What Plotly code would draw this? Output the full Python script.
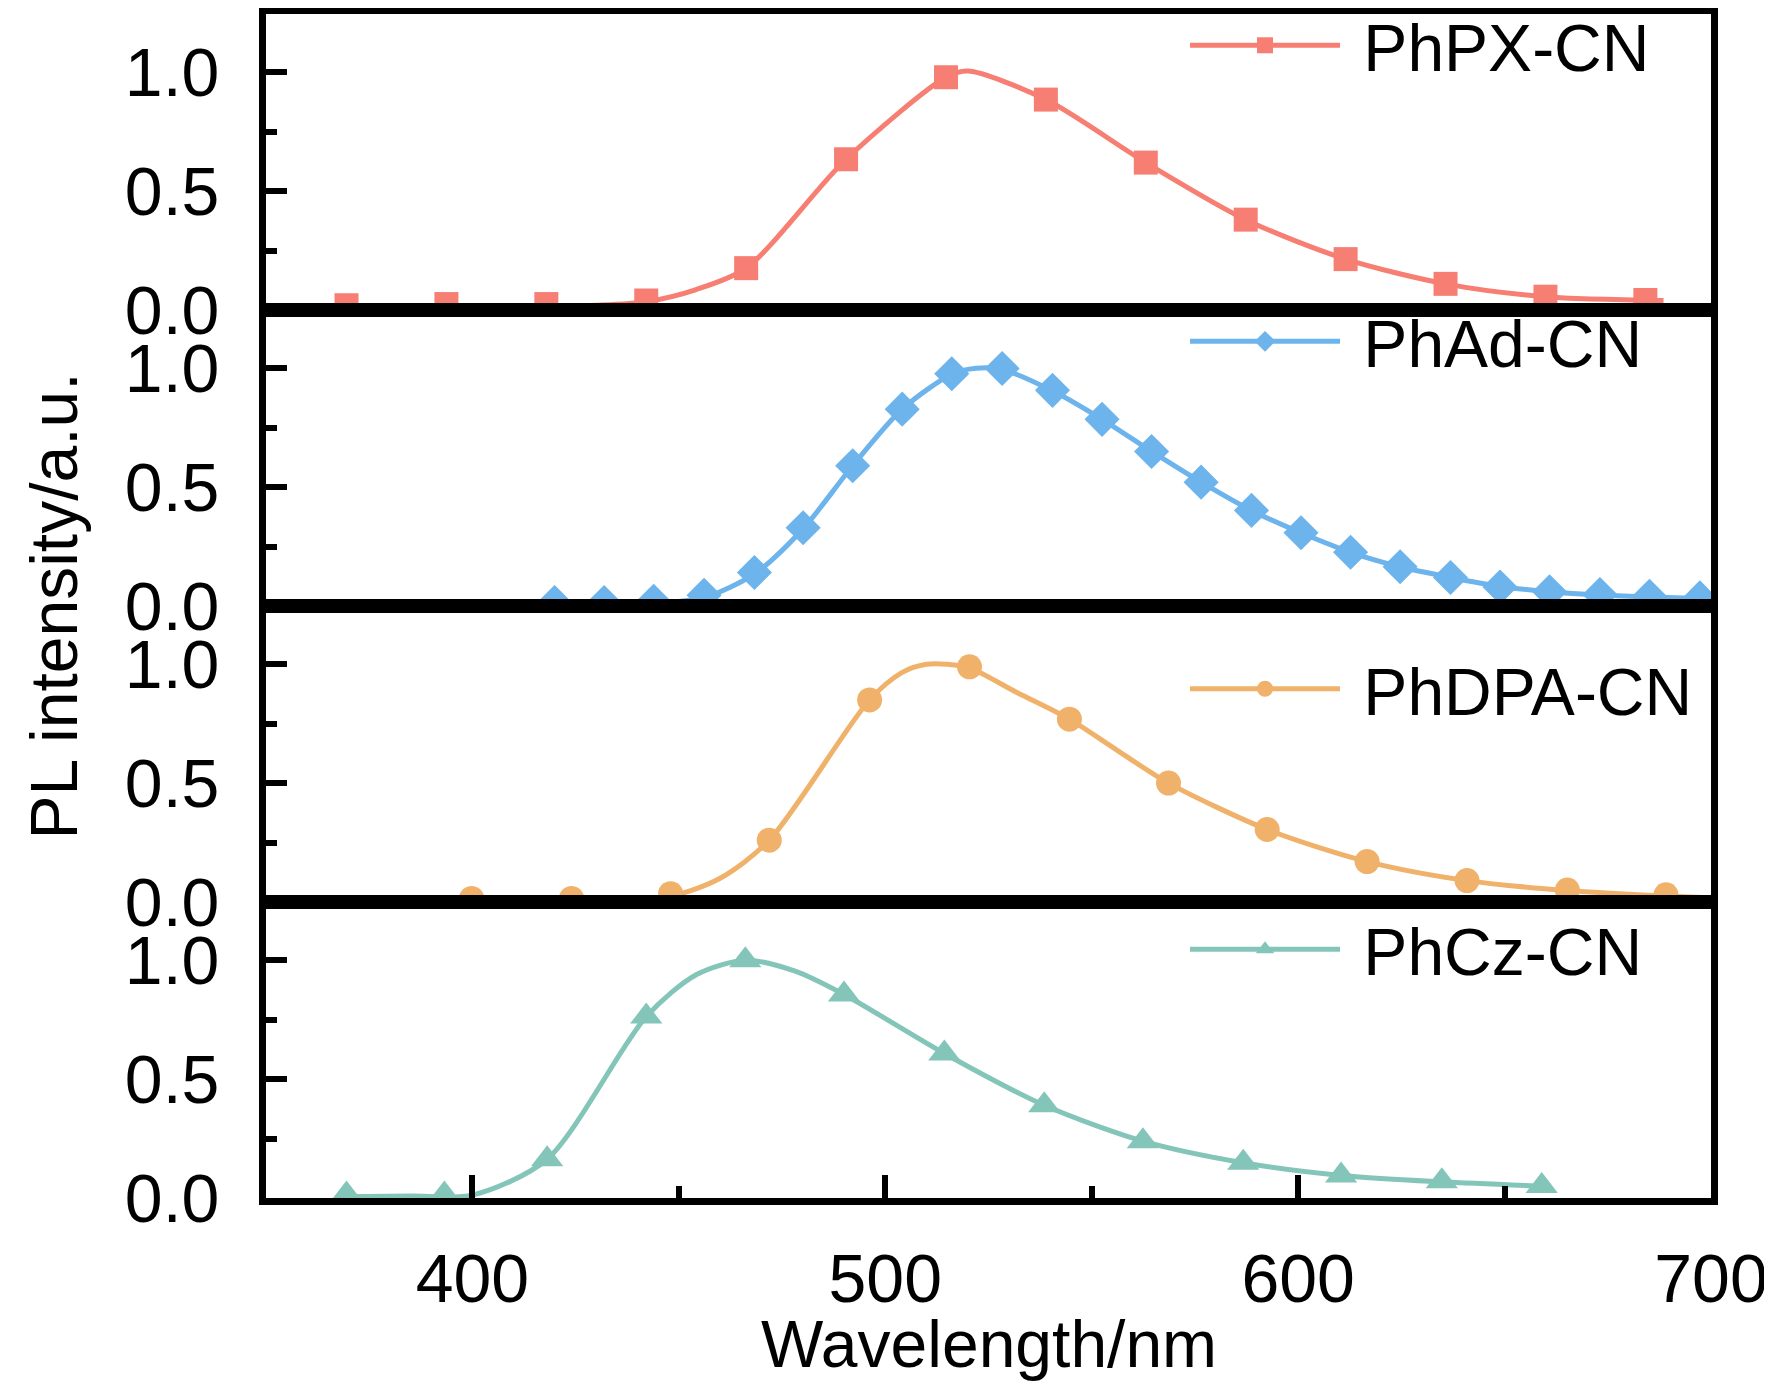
import plotly.graph_objects as go
from plotly.subplots import make_subplots

# PL spectra (normalised).
# *_wl / *_pl : points carrying a symbol ; *_cwl / *_cpl : the smooth curve
phpx_wl = [369.5, 393.7, 417.9, 442.1, 466.3, 490.5, 514.7, 538.9, 563.1, 587.3, 611.5, 635.7, 659.9, 684.1]
phpx_pl = [0.02, 0.025, 0.025, 0.04, 0.176, 0.634, 0.979, 0.885, 0.62, 0.38, 0.214, 0.11, 0.056, 0.042]
phpx_cwl = [368.3, 393.7, 417.9, 430.0, 442.1, 454.0, 466.3, 490.5, 514.7, 520.0,
            538.9, 563.1, 587.3, 611.5, 635.7, 659.9, 688.5]
phpx_cpl = [0.015, 0.018, 0.015, 0.02, 0.035, 0.085, 0.176, 0.634, 0.979, 1.005,
            0.885, 0.62, 0.38, 0.214, 0.11, 0.056, 0.04]

phad_wl = [419.9, 431.9, 443.9, 456.1, 468.3, 480.1, 492.1, 504.1, 516.1, 528.3, 540.5, 552.5,
           564.5, 576.5, 588.7, 600.7, 612.7, 624.7, 636.9, 648.9, 660.9, 673.1, 685.1, 697.3]
phad_pl = [0.015, 0.015, 0.02, 0.045, 0.141, 0.329, 0.59, 0.828, 0.977, 0.999, 0.907, 0.785,
           0.65, 0.521, 0.402, 0.308, 0.226, 0.165, 0.12, 0.08, 0.06, 0.048, 0.041, 0.034]
phad_cwl = [419.9, 443.9, 456.1, 468.3, 480.1, 492.1, 504.1, 516.1, 522.0, 528.3, 540.5, 552.5,
            564.5, 576.5, 588.7, 600.7, 612.7, 624.7, 636.9, 648.9, 660.9, 673.1, 685.1, 700.0]
phad_cpl = [0.008, 0.012, 0.035, 0.135, 0.325, 0.59, 0.828, 0.975, 1.0, 0.995, 0.905, 0.785,
            0.65, 0.521, 0.402, 0.308, 0.226, 0.165, 0.12, 0.082, 0.06, 0.046, 0.038, 0.03]

phdpa_wl = [399.8, 424.0, 448.0, 471.9, 496.2, 520.4, 544.6, 568.6, 592.5, 616.7, 640.9, 665.2, 689.1]
phdpa_pl = [0.015, 0.015, 0.035, 0.26, 0.85, 0.989, 0.769, 0.5, 0.305, 0.17, 0.09, 0.05, 0.03]
phdpa_cwl = [399.8, 424.0, 448.0, 460.0, 471.9, 496.2, 504.0, 510.0, 515.0, 520.4, 532.0,
             544.6, 556.0, 568.6, 592.5, 616.7, 640.9, 665.2, 689.1, 700.0]
phdpa_cpl = [0.004, 0.006, 0.025, 0.1, 0.26, 0.85, 0.965, 1.0, 1.0, 0.985, 0.88,
             0.769, 0.64, 0.5, 0.305, 0.17, 0.09, 0.048, 0.025, 0.018]

phcz_wl = [369.5, 393.2, 418.1, 442.1, 466.1, 490.0, 514.3, 538.5, 562.4, 586.7, 610.4, 634.8, 659.0]
phcz_pl = [0.015, 0.015, 0.163, 0.763, 1.0, 0.856, 0.608, 0.39, 0.239, 0.148, 0.095, 0.07, 0.05]
phcz_cwl = [368.3, 385.0, 400.0, 418.1, 442.1, 454.3, 466.1, 478.0, 490.0, 514.3, 538.5,
            562.4, 586.7, 610.4, 634.8, 661.0]
phcz_cpl = [0.005, 0.008, 0.012, 0.163, 0.763, 0.94, 1.0, 0.955, 0.856, 0.608, 0.39,
            0.239, 0.148, 0.095, 0.068, 0.048]

names = ["PhPX-CN", "PhAd-CN", "PhDPA-CN", "PhCz-CN"]
colors = ["#F77E72", "#6DB4EC", "#F0B26B", "#84C5BA"]
symbols = ["square", "diamond", "circle", "triangle-up"]
sizes = [24, 27, 25, 28]
marks = [(phpx_wl, phpx_pl), (phad_wl, phad_pl), (phdpa_wl, phdpa_pl), (phcz_wl, phcz_pl)]
curves = [(phpx_cwl, phpx_cpl), (phad_cwl, phad_cpl), (phdpa_cwl, phdpa_cpl), (phcz_cwl, phcz_cpl)]
legend_y = [0.9735, 0.7235, 0.43, 0.210]

FONT = "Liberation Sans, Arial, sans-serif"

fig = make_subplots(rows=4, cols=1, shared_xaxes=True, vertical_spacing=0)

for i in range(4):
    leg = "legend" if i == 0 else f"legend{i + 1}"
    cx, cy = curves[i]
    mx, my = marks[i]
    fig.add_trace(go.Scatter(
        x=cx, y=cy, mode="lines", showlegend=False, hoverinfo="skip",
        line=dict(color=colors[i], width=5, shape="spline", smoothing=0.8),
    ), row=i + 1, col=1)
    fig.add_trace(go.Scatter(
        x=mx, y=my, mode="markers", showlegend=False, name=names[i],
        marker=dict(symbol=symbols[i], size=sizes[i], color=colors[i]),
    ), row=i + 1, col=1)
    # legend entry only (line + symbol)
    fig.add_trace(go.Scatter(
        x=[None], y=[None], mode="lines+markers", name="\u00a0" + names[i], legend=leg,
        line=dict(color=colors[i], width=5),
        marker=dict(symbol=symbols[i], size=sizes[i], color=colors[i]),
    ), row=i + 1, col=1)

legends = {}
for i in range(4):
    key = "legend" if i == 0 else f"legend{i + 1}"
    legends[key] = dict(
        x=0.636, xanchor="left", y=legend_y[i], yanchor="middle",
        font=dict(family=FONT, size=66, color="black"),
        bgcolor="rgba(0,0,0,0)", borderwidth=0, itemsizing="trace", itemwidth=150,
    )

fig.update_layout(
    width=1772, height=1390,
    margin=dict(l=258, r=69, t=6, b=200, autoexpand=False),
    paper_bgcolor="white", plot_bgcolor="white",
    font=dict(family=FONT, size=66, color="black"),
    showlegend=True,
    **legends,
)

fig.update_yaxes(
    range=[0, 1.245], tick0=0, dtick=0.5, tickformat=".1f",
    ticks="inside", ticklen=21, tickwidth=6, tickcolor="black",
    minor=dict(ticks="inside", dtick=0.25, ticklen=11, tickwidth=6, tickcolor="black", showgrid=False),
    showline=True, linewidth=7, linecolor="black", mirror=True,
    showgrid=False, zeroline=False, ticklabelstandoff=26,
    tickfont=dict(family=FONT, size=68, color="black"),
)
fig.update_xaxes(
    range=[350, 700], showline=True, linewidth=7, linecolor="black", mirror=True,
    showgrid=False, zeroline=False, ticks="",
)
fig.update_xaxes(
    row=4, col=1, dtick=100, ticks="inside", ticklen=23, tickwidth=6, tickcolor="black",
    minor=dict(ticks="inside", dtick=50, ticklen=12, tickwidth=6, tickcolor="black", showgrid=False),
    tickfont=dict(family=FONT, size=68, color="black"), ticklabelstandoff=15,
)

fig.add_annotation(
    text="Wavelength/nm", xref="paper", yref="paper", x=0.5, y=-0.123,
    xanchor="center", yanchor="middle", showarrow=False,
    font=dict(family=FONT, size=66, color="black"),
)
fig.add_annotation(
    text="PL intensity/a.u.", xref="paper", yref="paper", x=-0.147, y=0.5,
    xanchor="center", yanchor="middle", textangle=-90, showarrow=False,
    font=dict(family=FONT, size=66, color="black"),
)

fig.write_html("out.html")
